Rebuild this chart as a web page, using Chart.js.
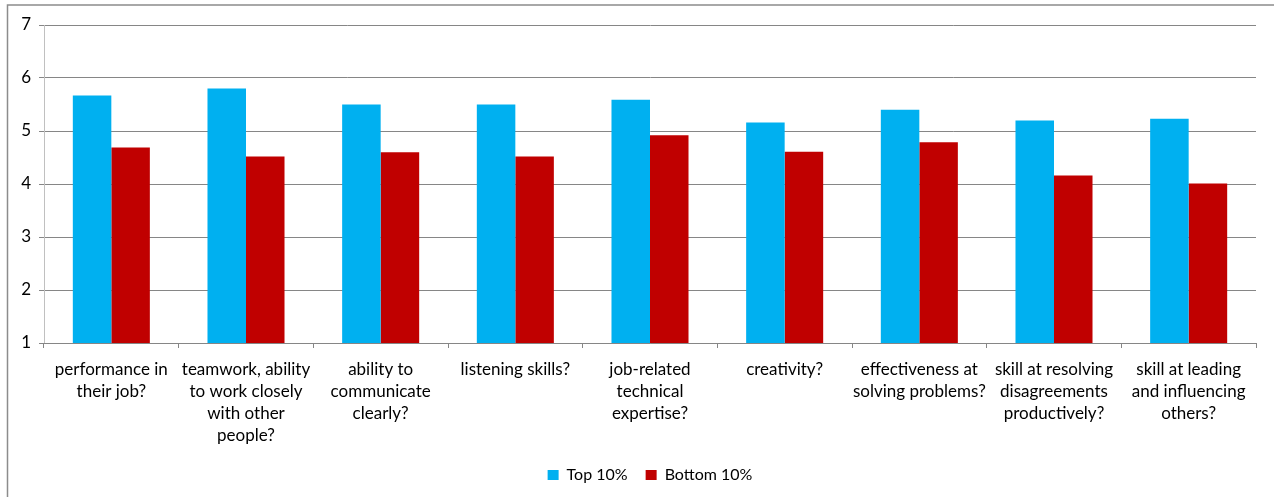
<!DOCTYPE html>
<html>
<head>
<meta charset="utf-8">
<script src="https://cdn.jsdelivr.net/npm/chart.js@4/dist/chart.umd.min.js"></script>
<style>
  html, body { margin:0; padding:0; background:#fff; }
  #wrap { position:absolute; left:0; top:0; width:1274px; height:497px; }
</style>
</head>
<body>
<div id="wrap"><canvas id="c" width="1274" height="497"></canvas></div>
<script>
const categories = [
  ["performance in", "their job?"],
  ["teamwork, ability", "to work closely", "with other", "people?"],
  ["ability to", "communicate", "clearly?"],
  ["listening skills?"],
  ["job-related", "technical", "expertise?"],
  ["creativity?"],
  ["effectiveness at", "solving problems?"],
  ["skill at resolving", "disagreements", "productively?"],
  ["skill at leading", "and influencing", "others?"]
];
const seriesNames = ["Top 10%", "Bottom 10%"];
const topValues = [5.67, 5.80, 5.50, 5.50, 5.59, 5.16, 5.40, 5.20, 5.23];
const bottomValues = [4.69, 4.52, 4.60, 4.52, 4.92, 4.61, 4.79, 4.16, 4.01];
const yTicks = [1, 2, 3, 4, 5, 6, 7];

const borderPlugin = {
  id: 'outerBorder',
  beforeDraw(chart) {
    const ctx = chart.ctx;
    ctx.save();
    ctx.fillStyle = '#fff';
    ctx.fillRect(0, 0, chart.width, chart.height);
    ctx.strokeStyle = '#8c8c8c';
    ctx.lineWidth = 1.5;
    ctx.beginPath();
    ctx.moveTo(7.5, 520);
    ctx.lineTo(7.5, 5);
    ctx.lineTo(1280, 5);
    ctx.stroke();
    ctx.restore();
  }
};

new Chart(document.getElementById('c'), {
  type: 'bar',
  data: {
    labels: categories,
    datasets: [
      { label: seriesNames[0], data: topValues, backgroundColor: '#00B0F0', borderWidth: 0 },
      { label: seriesNames[1], data: bottomValues, backgroundColor: '#C00000', borderWidth: 0 }
    ]
  },
  options: {
    responsive: false,
    animation: false,
    devicePixelRatio: 1,
    layout: { padding: { left: 0, top: 25, right: 18, bottom: 4 } },
    datasets: { bar: { categoryPercentage: 0.572, barPercentage: 1.0 } },
    plugins: {
      tooltip: { enabled: false },
      legend: {
        position: 'bottom',
        fullSize: false,
        labels: {
          color: '#000',
          font: { family: 'Lato', size: 16 },
          boxWidth: 11, boxHeight: 10,
          padding: 18
        }
      }
    },
    scales: {
      y: {
        min: 1, max: 7,
        afterFit(s) { s.width = 44; },
        afterBuildTicks(s) { s.ticks = yTicks.map(v => ({ value: v })); },
        ticks: { color: '#000', font: { family: 'Lato', size: 17 }, padding: 8 },
        grid: { color: '#868686', lineWidth: 1, tickLength: 5, drawTicks: true },
        border: { display: true, color: '#c0c0c0', width: 1 }
      },
      x: {
        afterFit(s) { s.height = 106; },
        ticks: {
          color: '#000', font: { family: 'Lato', size: 17, lineHeight: 1.3 },
          maxRotation: 0, minRotation: 0, autoSkip: false, padding: 10
        },
        grid: { display: true, drawOnChartArea: false, drawTicks: true, tickLength: 5, color: '#868686', offset: true },
        border: { display: true, color: '#868686', width: 1 }
      }
    }
  },
  plugins: [borderPlugin]
});
</script>
</body>
</html>
